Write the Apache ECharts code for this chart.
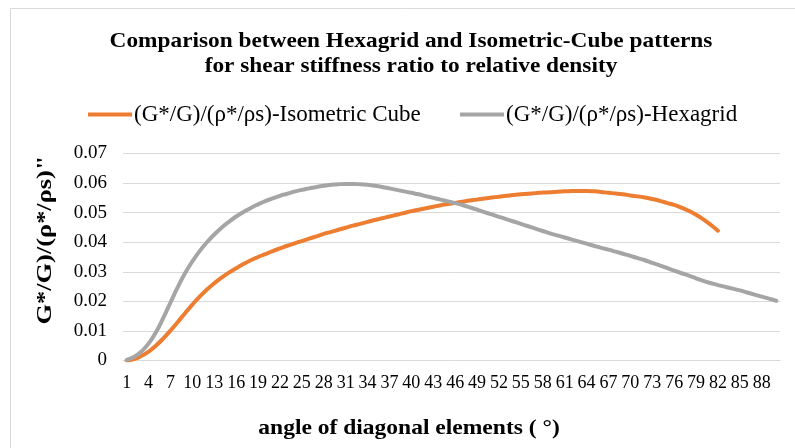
<!DOCTYPE html>
<html>
<head>
<meta charset="utf-8">
<script src="https://cdn.jsdelivr.net/npm/echarts@6/dist/echarts.min.js"></script>
<style>
  html, body { margin: 0; padding: 0; background: #ffffff; }
  #chart { width: 795px; height: 448px; }
</style>
</head>
<body>
<div id="chart"></div>
<script>
// Angle of the diagonal elements, 1° to 90°
const angles = Array.from({ length: 90 }, (_, i) => String(i + 1));

// (G*/G)/(ρ*/ρs) for the Isometric-Cube pattern, angles 1..82
const isometricCube = [
  0.0000, 0.0005, 0.0015, 0.0030, 0.0050, 0.0074, 0.0101, 0.0130, 0.0160, 0.0189,
  0.0216, 0.0240, 0.0261, 0.0280, 0.0297, 0.0312, 0.0326, 0.0339, 0.0350, 0.0360,
  0.0370, 0.0379, 0.0388, 0.0396, 0.0404, 0.0412, 0.0420, 0.0428, 0.0435, 0.0442,
  0.0449, 0.0456, 0.0462, 0.0469, 0.0475, 0.0481, 0.0487, 0.0493, 0.0499, 0.0505,
  0.0510, 0.0515, 0.0520, 0.0525, 0.0529, 0.0533, 0.0537, 0.0541, 0.0544, 0.0548,
  0.0551, 0.0554, 0.0557, 0.0560, 0.0562, 0.0564, 0.0566, 0.0568, 0.0569, 0.0571,
  0.0572, 0.0573, 0.0573, 0.0573, 0.0572, 0.0570, 0.0567, 0.0565, 0.0562, 0.0558,
  0.0555, 0.0551, 0.0546, 0.0540, 0.0533, 0.0526, 0.0517, 0.0506, 0.0493, 0.0477,
  0.0459, 0.0439
];

// (G*/G)/(ρ*/ρs) for the Hexagrid pattern, angles 1..90
const hexagrid = [
  0.0002, 0.0012, 0.0030, 0.0057, 0.0095, 0.0143, 0.0196, 0.0248, 0.0295, 0.0335,
  0.0370, 0.0400, 0.0426, 0.0449, 0.0469, 0.0487, 0.0502, 0.0516, 0.0528, 0.0539,
  0.0548, 0.0557, 0.0564, 0.0571, 0.0577, 0.0582, 0.0587, 0.0591, 0.0594, 0.0596,
  0.0597, 0.0597, 0.0596, 0.0594, 0.0591, 0.0587, 0.0582, 0.0577, 0.0572, 0.0567,
  0.0562, 0.0556, 0.0550, 0.0544, 0.0538, 0.0532, 0.0526, 0.0518, 0.0510, 0.0502,
  0.0494, 0.0486, 0.0478, 0.0470, 0.0462, 0.0454, 0.0446, 0.0438, 0.0430, 0.0423,
  0.0416, 0.0409, 0.0402, 0.0395, 0.0388, 0.0381, 0.0375, 0.0368, 0.0361, 0.0354,
  0.0346, 0.0339, 0.0330, 0.0322, 0.0313, 0.0304, 0.0295, 0.0287, 0.0278, 0.0269,
  0.0262, 0.0255, 0.0249, 0.0243, 0.0237, 0.0230, 0.0223, 0.0216, 0.0209, 0.0202
];

const seriesNames = ['(G*/G)/(ρ*/ρs)-Isometric Cube', '(G*/G)/(ρ*/ρs)-Hexagrid'];
const seriesColors = ['#ED7D31', '#A5A5A5'];

const titleText = 'Comparison between Hexagrid and Isometric-Cube patterns\nfor shear stiffness ratio to relative density';
const yName = 'G*/G)/(ρ*/ρs)"';
const xName = 'angle of diagonal elements ( °)';

const serif = '"Liberation Serif", "Times New Roman", serif';

const legendText = {
  fontFamily: serif,
  fontSize: 23,
  color: '#000000',
  padding: [0, 0, 0, -3]
};

function legendAt(left, name) {
  return {
    left: left,
    top: 98,
    itemWidth: 44,
    itemHeight: 4,
    icon: 'rect',
    textStyle: legendText,
    data: [name]
  };
}

const chart = echarts.init(document.getElementById('chart'), null, { renderer: 'canvas' });

chart.setOption({
  backgroundColor: '#ffffff',
  animation: false,
  legend: [legendAt(83, seriesNames[0]), legendAt(455, seriesNames[1])],
  grid: {
    left: 123,
    right: 15,
    top: 153.5,
    bottom: 87.5,
    containLabel: false
  },
  xAxis: {
    type: 'category',
    data: angles,
    boundaryGap: true,
    axisLine: { show: true, lineStyle: { color: '#D9D9D9', width: 1 } },
    axisTick: { show: false },
    axisLabel: {
      interval: 2,
      margin: 14,
      fontFamily: serif,
      fontSize: 18,
      color: '#000000'
    }
  },
  yAxis: {
    type: 'value',
    min: 0,
    max: 0.07,
    interval: 0.01,
    axisLine: { show: false },
    axisTick: { show: false },
    splitLine: { lineStyle: { color: '#D9D9D9', width: 1 } },
    axisLabel: {
      margin: 16,
      fontFamily: serif,
      fontSize: 19,
      color: '#000000',
      formatter: v => (v === 0 ? '0' : v.toFixed(2))
    }
  },
  graphic: [
    {
      type: 'rect',
      shape: { x: 10.5, y: 8.5, width: 900, height: 600 },
      style: { fill: 'none', stroke: '#D9D9D9', lineWidth: 1 },
      silent: true
    },
    {
      type: 'text',
      x: 411,
      y: 29,
      scaleX: 1.11,
      style: {
        text: titleText,
        fontFamily: serif,
        fontWeight: 'bold',
        fontSize: 21,
        lineHeight: 25,
        fill: '#000000',
        align: 'center',
        verticalAlign: 'top'
      }
    },
    {
      type: 'text',
      x: 45,
      y: 240,
      rotation: Math.PI / 2,
      scaleX: 1.2,
      style: {
        text: yName,
        fontFamily: serif,
        fontWeight: 'bold',
        fontSize: 22,
        fill: '#000000',
        align: 'center',
        verticalAlign: 'middle'
      }
    },
    {
      type: 'text',
      x: 409,
      y: 429,
      scaleX: 1.12,
      style: {
        text: xName,
        fontFamily: serif,
        fontWeight: 'bold',
        fontSize: 21,
        fill: '#000000',
        align: 'center',
        verticalAlign: 'middle'
      }
    }
  ],
  series: [
    {
      name: seriesNames[0],
      type: 'line',
      data: isometricCube,
      smooth: true,
      showSymbol: false,
      symbol: 'none',
      color: seriesColors[0],
      lineStyle: { width: 4, color: seriesColors[0], cap: 'round' }
    },
    {
      name: seriesNames[1],
      type: 'line',
      data: hexagrid,
      smooth: true,
      showSymbol: false,
      symbol: 'none',
      color: seriesColors[1],
      lineStyle: { width: 4, color: seriesColors[1], cap: 'round' }
    }
  ]
});
</script>
</body>
</html>
